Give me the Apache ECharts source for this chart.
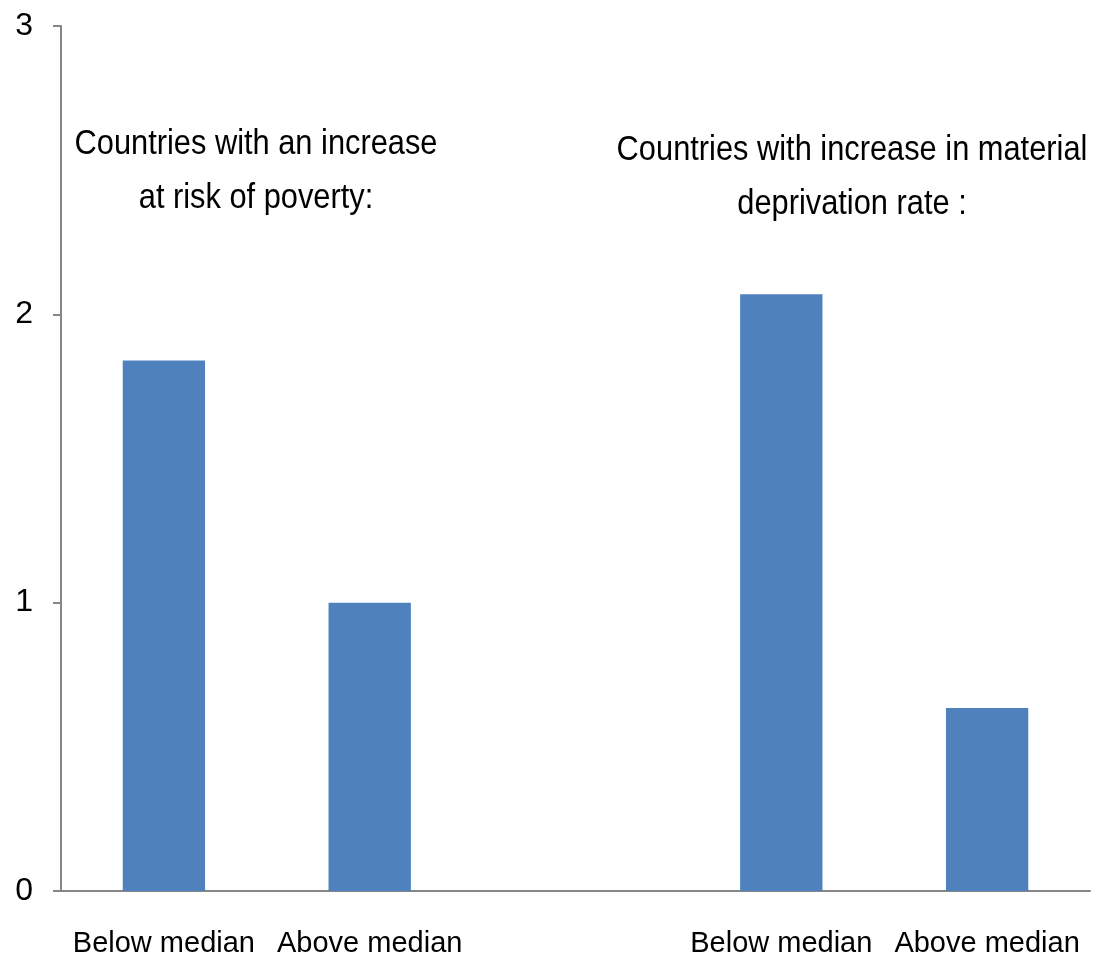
<!DOCTYPE html>
<html>
<head>
<meta charset="utf-8">
<script src="https://cdn.jsdelivr.net/npm/echarts@6/dist/echarts.min.js"></script>
<style>
  html, body { margin: 0; padding: 0; background: #ffffff; }
  #chart { width: 1095px; height: 959px; }
</style>
</head>
<body>
<div id="chart"></div>
<script>
// Categories: two groups of two bars with an empty slot between them
const categories = ['Below median', 'Above median', '', 'Below median', 'Above median'];
const values = [1.84, 1.0, null, 2.07, 0.635];
const yTicks = [0, 1, 2, 3];
const groupTitles = [
  'Countries with an increase\nat risk of poverty:',
  'Countries with increase in material\ndeprivation rate :'
];

const FONT = '"Liberation Sans", Arial, sans-serif';
const chart = echarts.init(document.getElementById('chart'), null, { renderer: 'canvas' });

// Narrowed group caption centred on (cx, cy)
function caption(text, cx, cy) {
  return {
    type: 'text',
    x: cx, y: cy,
    scaleX: 0.88,
    style: {
      text: text,
      align: 'center', verticalAlign: 'middle',
      font: '35px ' + FONT,
      lineHeight: 54,
      fill: '#000000'
    }
  };
}

chart.setOption({
  animation: false,
  backgroundColor: '#ffffff',
  grid: { left: 61, right: 5, top: 26, bottom: 68, containLabel: false },
  xAxis: {
    type: 'category',
    data: categories,
    axisLine: { show: true, lineStyle: { color: '#868686', width: 2 } },
    axisTick: { show: false },
    axisLabel: {
      interval: 0,
      margin: 38,
      color: '#000000',
      fontFamily: FONT,
      fontSize: 29
    },
    splitLine: { show: false }
  },
  yAxis: {
    type: 'value',
    min: yTicks[0],
    max: yTicks[yTicks.length - 1],
    interval: 1,
    axisLine: { show: true, lineStyle: { color: '#868686', width: 2 } },
    axisTick: { show: true, length: 8, lineStyle: { color: '#868686', width: 2 } },
    axisLabel: {
      margin: 28,
      color: '#000000',
      fontFamily: FONT,
      fontSize: 32
    },
    splitLine: { show: false }
  },
  series: [{
    type: 'bar',
    data: values,
    barWidth: '40%',
    itemStyle: { color: '#4F81BD' }
  }],
  graphic: [
    caption(groupTitles[0], 256, 171),
    caption(groupTitles[1], 852, 177)
  ]
});
</script>
</body>
</html>
